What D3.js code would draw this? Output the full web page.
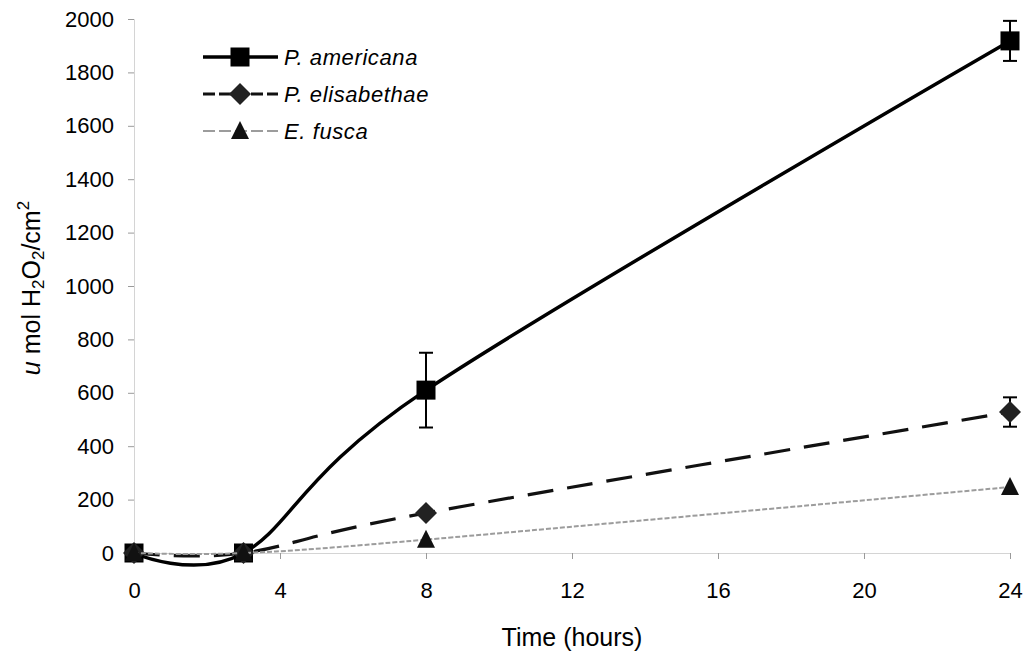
<!DOCTYPE html>
<html>
<head>
<meta charset="utf-8">
<script src="https://cdn.jsdelivr.net/npm/d3@7"></script>
<style>
  html, body { margin: 0; padding: 0; background: #fff; }
  svg { display: block; font-family: "Liberation Sans", Arial, sans-serif; }
</style>
</head>
<body>
<svg id="chart" width="1031" height="656"></svg>
<script>
// Sampling times (hours)
const hours = [0, 3, 8, 24];

// H2O2 production (u mol / cm^2) per species, with standard deviations
const americana = [0, 0, 610, 1918];
const americanaErr = [0, 0, 140, 75];
const elisabethae = [0, 0, 150, 528];
const elisabethaeErr = [0, 0, 0, 55];
const fusca = [0, 0, 50, 247];
const fuscaErr = [0, 0, 0, 0];

const seriesNames = ["P. americana", "P. elisabethae", "E. fusca"];
const xTicks = [0, 4, 8, 12, 16, 20, 24];
const yTicks = [0, 200, 400, 600, 800, 1000, 1200, 1400, 1600, 1800, 2000];

const svg = d3.select("#chart");

const x = d3.scaleLinear().domain([0, 24]).range([134, 1010]);
const y = d3.scaleLinear().domain([0, 2000]).range([553, 19]);

// Axes (faint, as in the printed figure)
const yAxis = svg.append("g")
  .attr("transform", `translate(${x(0)},0)`)
  .call(d3.axisLeft(y).tickValues(yTicks).tickFormat(d3.format("d"))
    .tickSize(6).tickPadding(14));
const xAxis = svg.append("g")
  .attr("transform", `translate(0,${y(0)})`)
  .call(d3.axisBottom(x).tickValues(xTicks).tickFormat(d3.format("d"))
    .tickSize(6).tickPadding(23));

[yAxis, xAxis].forEach(g => {
  g.select(".domain").attr("stroke", "#d4d4d4").attr("stroke-width", 1);
  g.selectAll(".tick line").attr("stroke", "#9a9a9a");
  g.selectAll(".tick text")
    .attr("fill", "#000")
    .style("font-size", "22px")
    .style("font-family", "'Liberation Sans', Arial, sans-serif");
});

// Axis titles
svg.append("text")
  .attr("x", 572).attr("y", 646)
  .attr("text-anchor", "middle")
  .style("font-size", "25px")
  .text("Time (hours)");

const yTitle = svg.append("text")
  .attr("transform", "translate(40,288) rotate(-90)")
  .attr("text-anchor", "middle")
  .style("font-size", "25px");
yTitle.append("tspan").style("font-style", "italic").text("u");
yTitle.append("tspan").text(" mol H");
yTitle.append("tspan").attr("dy", 4).style("font-size", "17px").text("2");
yTitle.append("tspan").attr("dy", -4).text("O");
yTitle.append("tspan").attr("dy", 4).style("font-size", "17px").text("2");
yTitle.append("tspan").attr("dy", -4).text("/cm");
yTitle.append("tspan").attr("dy", -11).style("font-size", "17px").text("2");

// Series definitions
const series = [
  { name: seriesNames[0], values: americana, err: americanaErr,
    stroke: "#000", width: 3.5, dash: null, marker: "square", fill: "#000" },
  { name: seriesNames[1], values: elisabethae, err: elisabethaeErr,
    stroke: "#111", width: 3.2, dash: "26,14", marker: "diamond", fill: "#222" },
  { name: seriesNames[2], values: fusca, err: fuscaErr,
    stroke: "#9c9c9c", width: 2, dash: "5,2", marker: "triangle", fill: "#111" }
];

const line = d3.line()
  .x(d => x(d[0]))
  .y(d => y(d[1]))
  .curve(d3.curveCardinal.tension(0));

function drawMarker(g, type, cx, cy, fill) {
  if (type === "square") {
    g.append("rect").attr("x", cx - 9.5).attr("y", cy - 9.5)
      .attr("width", 19).attr("height", 19).attr("fill", fill);
  } else if (type === "diamond") {
    g.append("path")
      .attr("d", `M${cx},${cy - 11}L${cx + 11},${cy}L${cx},${cy + 11}L${cx - 11},${cy}Z`)
      .attr("fill", fill);
  } else {
    g.append("path")
      .attr("d", `M${cx},${cy - 10}L${cx + 9},${cy + 8}L${cx - 9},${cy + 8}Z`)
      .attr("fill", fill);
  }
}

series.forEach(s => {
  const pts = hours.map((h, i) => [h, s.values[i]]);
  const g = svg.append("g");
  g.append("path")
    .attr("d", line(pts))
    .attr("fill", "none")
    .attr("stroke", s.stroke)
    .attr("stroke-width", s.width)
    .attr("stroke-dasharray", s.dash);
  // error bars
  hours.forEach((h, i) => {
    const e = s.err[i];
    if (!e) return;
    const cx = x(h), y1 = y(s.values[i] + e), y2 = y(s.values[i] - e);
    g.append("line").attr("x1", cx).attr("x2", cx).attr("y1", y1).attr("y2", y2)
      .attr("stroke", "#000").attr("stroke-width", 2);
    [y1, y2].forEach(yy => g.append("line")
      .attr("x1", cx - 7).attr("x2", cx + 7).attr("y1", yy).attr("y2", yy)
      .attr("stroke", "#000").attr("stroke-width", 2));
  });
  hours.forEach((h, i) => drawMarker(g, s.marker, x(h), y(s.values[i]), s.fill));
});

// Legend
const legendRows = [57, 94, 131];
series.forEach((s, i) => {
  const g = svg.append("g");
  const ly = legendRows[i];
  g.append("line").attr("x1", 203).attr("x2", 278).attr("y1", ly).attr("y2", ly)
    .attr("stroke", s.stroke).attr("stroke-width", s.width)
    .attr("stroke-dasharray", s.dash ? "12,4" : null);
  drawMarker(g, s.marker, 240, ly, s.fill);
  g.append("text")
    .attr("x", 284).attr("y", ly + 8)
    .style("font-size", "22px")
    .style("font-style", "italic")
    .style("letter-spacing", "0.6px")
    .text(s.name);
});
</script>
</body>
</html>
